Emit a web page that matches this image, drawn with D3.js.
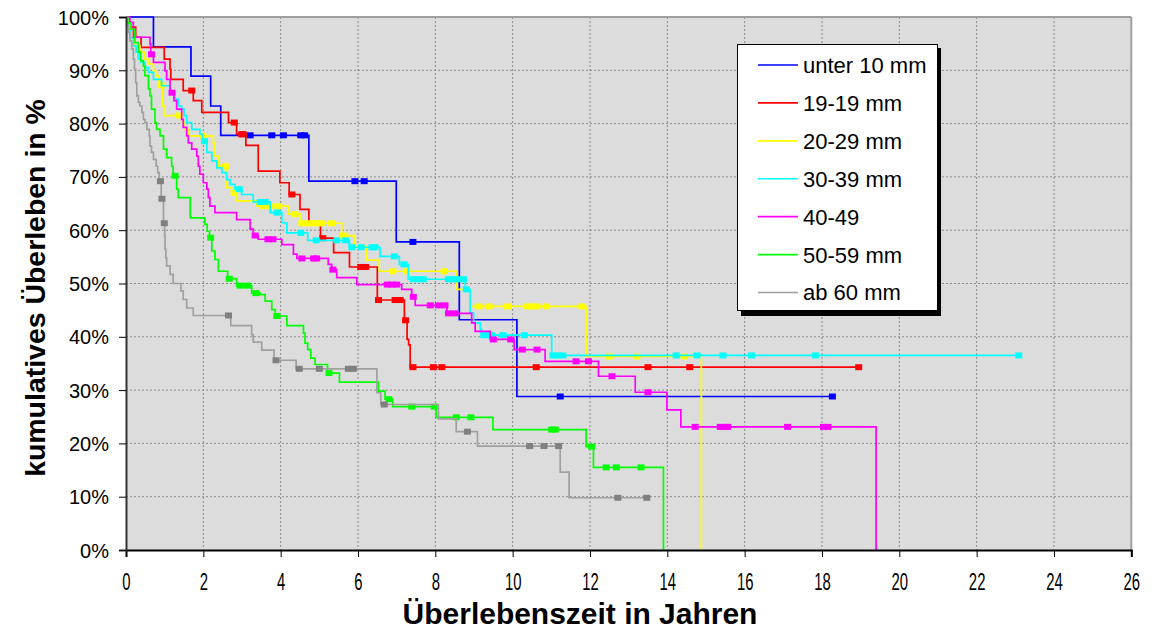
<!DOCTYPE html>
<html>
<head>
<meta charset="utf-8">
<script src="https://cdn.jsdelivr.net/npm/d3@7"></script>
<style>
  html, body { margin: 0; padding: 0; background: #ffffff; }
  svg { display: block; }
  text { font-family: "Liberation Sans", Arial, sans-serif; fill: #000; }
</style>
</head>
<body>
<svg id="chart" width="1152" height="629"></svg>
<script>
// ---------------- DATA ----------------
const seriesNames = ["unter 10 mm", "19-19 mm", "20-29 mm", "30-39 mm", "40-49", "50-59 mm", "ab 60 mm"];
const xTicks = [0, 2, 4, 6, 8, 10, 12, 14, 16, 18, 20, 22, 24, 26];
const yTicks = [0, 10, 20, 30, 40, 50, 60, 70, 80, 90, 100];
const xTitle = "Überlebenszeit in Jahren";
const yTitle = "kumulatives Überleben in %";

// step points [time in years, survival %] ; censored times ; end of follow-up
const blueSteps = [[0,100],[0.71,94.4],[1.68,88.9],[2.19,83.3],[2.45,77.8],[4.73,69.2],[6.99,57.8],[8.62,43.2],[10.11,28.8]];
const blueCens = [3.21,3.77,4.07,4.52,4.62,5.92,6.16,7.42,11.23,18.27];
const blueEnd = 18.27;

const redSteps = [[0,100],[0.08,98.1],[0.25,96.2],[0.39,94.3],[0.99,92.1],[1.14,90.2],[1.16,88.3],[1.48,86.2],[1.74,84.3],[1.96,82.1],[2.65,80.2],[2.86,78.0],[3.10,75.9],[3.42,71.1],[3.98,68.9],[4.22,66.7],[4.50,63.9],[4.73,61.1],[5.03,58.5],[5.37,55.8],[5.78,53.1],[6.50,46.9],[7.20,43.1],[7.27,39.5],[7.31,38.5],[7.35,34.3]];
const redCens = [1.70,2.80,2.99,3.03,4.29,5.09,6.07,6.20,6.53,6.96,7.09,7.23,7.42,7.95,8.17,10.61,13.50,14.58,18.95];
const redEnd = 18.95;

const yellowSteps = [[0,100],[0.05,98.5],[0.10,97.2],[0.16,95.9],[0.21,94.6],[0.36,93.4],[0.47,92.1],[0.58,91.2],[0.71,89.9],[0.77,89.0],[0.84,88.0],[0.88,87.2],[0.94,83.3],[1.01,81.5],[1.44,80.2],[1.53,78.9],[1.61,77.7],[2.26,76.4],[2.30,73.9],[2.39,72.0],[2.59,68.0],[2.73,67.0],[2.85,65.5],[3.38,64.5],[4.20,63.0],[4.50,61.3],[5.58,59.0],[5.92,57.0],[6.23,54.4],[6.55,52.3],[8.54,48.9],[8.90,45.7],[11.90,36.3],[14.88,0]];
const yellowCens = [0.91,1.38,1.99,2.57,2.80,3.55,3.75,3.95,4.37,4.55,4.70,4.85,4.95,5.05,5.32,5.62,6.90,7.26,8.23,9.13,9.39,9.87,10.37,10.50,10.63,10.87,11.79,12.50,13.21,14.44];
const yellowEnd = 14.88;

const cyanSteps = [[0,100],[0.04,98.7],[0.08,97.4],[0.12,96.1],[0.19,94.6],[0.26,93.4],[0.32,92.1],[0.38,91.5],[0.49,90.5],[0.58,89.6],[0.71,88.3],[0.92,87.1],[1.14,85.5],[1.27,84.6],[1.35,83.3],[1.44,82.7],[1.50,81.5],[1.57,80.2],[1.70,78.9],[1.91,78.0],[1.98,76.7],[2.09,74.6],[2.22,73.0],[2.35,71.7],[2.48,70.8],[2.60,69.5],[2.69,68.6],[2.82,67.7],[2.99,66.7],[3.29,65.3],[3.73,63.3],[4.03,61.4],[4.16,59.5],[4.70,58.1],[5.78,56.8],[6.57,55.1],[7.07,53.6],[7.30,50.8],[8.77,48.9],[8.90,44.5],[8.99,42.6],[9.16,41.4],[9.20,40.3],[11.01,36.5]];
const cyanCens = [2.03,2.93,3.47,3.60,3.91,4.52,4.92,5.45,5.68,5.84,6.08,6.36,6.44,6.94,7.19,7.43,7.56,7.69,8.34,8.47,8.60,8.73,8.80,9.25,9.35,9.45,9.75,10.30,11.04,11.17,11.30,14.23,14.77,15.44,16.18,17.83,23.09];
const cyanEnd = 23.09;

const magentaSteps = [[0,100],[0.10,99.0],[0.19,96.2],[0.62,94.9],[0.64,93.0],[0.71,91.5],[1.01,89.9],[1.05,88.3],[1.14,85.8],[1.24,84.3],[1.31,82.7],[1.44,80.8],[1.48,79.3],[1.57,77.7],[1.61,76.4],[1.70,75.2],[1.83,73.9],[1.87,72.0],[1.91,70.5],[2.00,68.9],[2.09,67.7],[2.13,66.1],[2.17,64.5],[2.30,63.3],[2.86,62.0],[3.21,60.2],[3.29,59.0],[3.42,58.3],[4.03,57.3],[4.33,55.5],[4.42,54.7],[5.23,53.6],[5.32,52.6],[5.45,51.1],[5.97,49.8],[7.13,48.9],[7.39,47.5],[7.48,45.9],[8.30,44.4],[8.94,42.6],[9.03,41.0],[9.42,39.5],[10.04,37.6],[10.84,35.4],[12.22,32.6],[13.17,29.6],[13.99,26.3],[14.35,23.1],[19.40,0]];
const magentaCens = [0.66,1.19,3.34,3.67,3.80,4.55,4.85,4.93,5.35,6.76,6.88,7.00,7.43,7.87,8.08,8.25,8.34,8.51,9.50,9.95,10.25,10.63,11.64,11.96,12.57,13.50,14.72,15.37,15.50,15.56,17.11,18.04,18.15];
const magentaEnd = 19.40;

const greenSteps = [[0,100],[0.04,98.9],[0.13,97.7],[0.23,95.2],[0.32,93.4],[0.38,91.8],[0.45,90.8],[0.49,89.0],[0.58,86.5],[0.62,85.2],[0.66,82.7],[0.75,80.2],[0.79,78.9],[0.88,77.7],[0.97,75.2],[1.05,73.6],[1.18,72.0],[1.22,70.2],[1.31,67.7],[1.35,66.1],[1.66,62.3],[2.04,61.1],[2.10,59.8],[2.16,58.6],[2.22,56.1],[2.30,54.5],[2.39,52.3],[2.63,50.9],[2.86,49.6],[3.25,48.2],[3.47,47.9],[3.60,46.7],[3.77,45.1],[3.86,43.9],[4.16,42.1],[4.59,40.7],[4.63,38.8],[4.70,37.6],[4.78,36.0],[4.89,34.8],[5.21,33.2],[5.52,31.5],[6.53,29.8],[6.70,28.3],[6.90,26.9],[8.02,24.9],[9.49,22.6],[11.90,19.4],[12.09,15.5],[13.90,0]];
const greenCens = [1.27,2.19,2.67,2.95,3.14,3.36,3.90,5.25,6.80,7.39,7.97,8.54,8.92,11.01,11.10,12.04,12.42,12.68,13.32];
const greenEnd = 13.90;

const graySteps = [[0,100],[0.02,98.5],[0.06,97.1],[0.10,95.5],[0.15,94.0],[0.19,92.1],[0.22,90.2],[0.25,87.7],[0.28,85.2],[0.32,84.0],[0.36,83.3],[0.41,82.1],[0.45,80.8],[0.49,80.2],[0.54,78.9],[0.60,77.7],[0.62,75.8],[0.66,74.6],[0.71,73.3],[0.78,72.0],[0.82,70.8],[0.86,69.2],[0.91,65.9],[0.97,61.3],[1.00,59.0],[1.01,56.4],[1.03,54.8],[1.05,53.3],[1.14,51.7],[1.22,50.0],[1.42,48.6],[1.48,47.0],[1.57,45.4],[1.74,44.0],[2.71,42.1],[3.25,40.4],[3.29,39.0],[3.51,37.5],[3.83,35.6],[4.40,34.0],[6.49,29.5],[6.59,27.3],[8.08,24.6],[8.54,22.2],[9.09,19.5],[11.23,14.6],[11.46,9.8]];
const grayCens = [0.89,0.93,0.99,2.65,3.88,4.48,5.00,5.75,5.88,6.68,8.83,10.44,10.81,11.19,12.72,13.47];
const grayEnd = 13.47;

const lineColors = ["#0000ff", "#ff0000", "#ffff00", "#00ffff", "#ff00ff", "#00ff00", "#a0a0a0"];
const markColors = ["#0000ff", "#ff0000", "#ffff00", "#00ffff", "#ff00ff", "#00ff00", "#808080"];

const series = [
  {steps: blueSteps, cens: blueCens, end: blueEnd},
  {steps: redSteps, cens: redCens, end: redEnd},
  {steps: yellowSteps, cens: yellowCens, end: yellowEnd},
  {steps: cyanSteps, cens: cyanCens, end: cyanEnd},
  {steps: magentaSteps, cens: magentaCens, end: magentaEnd},
  {steps: greenSteps, cens: greenCens, end: greenEnd},
  {steps: graySteps, cens: grayCens, end: grayEnd}
].map((s, i) => Object.assign(s, {name: seriesNames[i], color: lineColors[i], mark: markColors[i]}));

// ---------------- CHART ----------------
const svg = d3.select("#chart");
const L = 126, R = 1131.3, T = 17, B = 550;
const x = d3.scaleLinear().domain([0, 26]).range([L, R]);
const y = d3.scaleLinear().domain([0, 100]).range([B, T]);

// plot background
svg.append("rect").attr("x", L).attr("y", T).attr("width", R - L).attr("height", B - T).attr("fill", "#dcdcdc");

// grid
const grid = svg.append("g");
grid.selectAll("line.v").data(xTicks.filter(d => d > 0 && d < 26)).join("line")
  .attr("x1", d => x(d)).attr("x2", d => x(d)).attr("y1", T).attr("y2", B)
  .attr("stroke", "#8a8a8a").attr("stroke-width", 1).attr("stroke-dasharray", "2,2");
grid.selectAll("line.h").data(yTicks.filter(d => d > 0 && d < 100)).join("line")
  .attr("x1", L).attr("x2", R).attr("y1", d => y(d)).attr("y2", d => y(d))
  .attr("stroke", "#8a8a8a").attr("stroke-width", 1).attr("stroke-dasharray", "2,2");

// top & right frame
svg.append("line").attr("x1", L).attr("x2", R).attr("y1", T).attr("y2", T).attr("stroke", "#a0a0a0").attr("stroke-width", 2);
svg.append("line").attr("x1", R).attr("x2", R).attr("y1", T).attr("y2", B).attr("stroke", "#a0a0a0").attr("stroke-width", 2);

// series
function survAt(steps, t) {
  let s = steps[0][1];
  for (const [tt, ss] of steps) if (tt <= t + 1e-9) s = ss;
  return s;
}
const line = d3.line().x(d => x(d[0])).y(d => y(d[1])).curve(d3.curveStepAfter);
const plot = svg.append("g");
series.forEach(s => {
  const pts = s.steps.slice();
  const last = pts[pts.length - 1];
  if (last[0] < s.end) pts.push([s.end, last[1]]);
  plot.append("path").attr("d", line(pts)).attr("fill", "none")
    .attr("stroke", s.color).attr("stroke-width", 1.7);
  plot.append("g").selectAll("rect").data(s.cens).join("rect")
    .attr("x", d => x(d) - 3.5).attr("y", d => y(survAt(s.steps, d)) - 3)
    .attr("width", 7).attr("height", 6).attr("fill", s.mark);
});

// axes
const xAxis = svg.append("g").attr("transform", `translate(0,${B})`)
  .call(d3.axisBottom(x).tickValues(xTicks).tickSize(7).tickFormat(d3.format("d")));
xAxis.select(".domain").attr("stroke", "#000").attr("stroke-width", 2);
xAxis.selectAll(".tick line").attr("stroke", "#000");
xAxis.selectAll(".tick text").attr("font-size", 24).attr("dy", 0).attr("y", 40)
  .attr("transform", "scale(0.62,1)")
  .style("font-family", "'Liberation Sans Narrow','Liberation Sans',Arial,sans-serif");

const yAxis = svg.append("g").attr("transform", `translate(${L},0)`)
  .call(d3.axisLeft(y).tickValues(yTicks).tickSize(7).tickFormat(d => d + "%"));
yAxis.select(".domain").attr("stroke", "#333").attr("stroke-width", 2);
yAxis.selectAll(".tick line").attr("stroke", "#000");
yAxis.selectAll(".tick text").attr("font-size", 20).attr("x", -17).attr("dy", "0.35em");

// titles
const xt = svg.append("text").attr("font-size", 29).attr("font-weight", "bold")
  .attr("text-anchor", "middle").text(xTitle);
{
  const w = xt.node().getComputedTextLength();
  const k = 355 / w;
  xt.attr("transform", `translate(580,624) scale(${k},1)`);
}
const yt = svg.append("text").attr("font-size", 27).attr("font-weight", "bold")
  .attr("text-anchor", "middle").text(yTitle);
{
  const w = yt.node().getComputedTextLength();
  const k = 378 / w;
  yt.attr("transform", `translate(45,288) rotate(-90) scale(${k},1)`);
}

// legend
const lg = svg.append("g");
lg.append("rect").attr("x", 741).attr("y", 48).attr("width", 200).attr("height", 268).attr("fill", "#000");
lg.append("rect").attr("x", 737.5).attr("y", 44.5).attr("width", 200).attr("height", 266)
  .attr("fill", "#fff").attr("stroke", "#000").attr("stroke-width", 1);
const ly = d3.scalePoint().domain(seriesNames).range([65, 292.5]);
const items = lg.selectAll("g.item").data(series).join("g").attr("transform", d => `translate(0,${ly(d.name)})`);
items.append("line").attr("x1", 758).attr("x2", 798).attr("y1", 0).attr("y2", 0)
  .attr("stroke", d => d.color).attr("stroke-width", 1.7);
items.append("text").attr("x", 803).attr("y", 0).attr("dy", "0.36em").attr("font-size", 22).text(d => d.name);
</script>
</body>
</html>
